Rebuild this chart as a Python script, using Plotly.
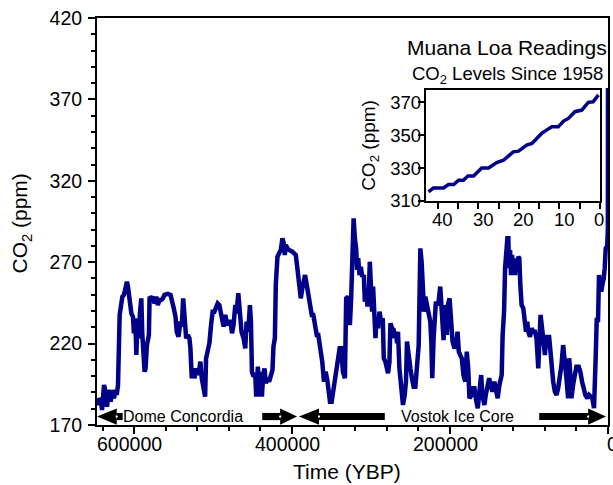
import plotly.graph_objects as go

# ---------------- data ----------------
# Ice-core CO2 record: age in thousands of years before present, CO2 in ppm
age_kyr = [
    647.0, 644.8, 642.3, 640.6, 638.1, 636.3, 634.3, 632.2, 629.6, 628.0,
    625.5, 623.7, 622.1, 620.4, 618.3, 616.1, 614.9, 612.9, 610.7, 609.1,
    607.8, 606.6, 605.3, 603.5, 601.5, 600.2, 598.5, 597.2, 595.9, 593.9,
    592.7, 590.9, 589.6, 588.0, 586.7, 585.5, 583.8, 581.3, 580.4, 578.3,
    576.3, 574.1, 572.0, 570.0, 567.8, 565.7, 563.6, 561.5, 557.3, 553.9,
    551.8, 549.8, 547.6, 546.0, 543.8, 541.3, 539.7, 537.9, 536.3, 534.1,
    532.1, 530.0, 528.7, 527.0, 525.3, 523.6, 521.5, 519.5, 517.3, 516.1,
    514.4, 512.3, 510.1, 508.9, 506.9, 504.7, 502.6, 500.6, 498.4, 496.3,
    494.2, 492.1, 490.0, 486.7, 484.5, 482.9, 480.4, 478.2, 476.1, 474.1,
    471.9, 470.3, 468.1, 466.0, 464.0, 461.4, 459.3, 457.6, 455.5, 453.4,
    452.1, 450.8, 448.8, 446.7, 445.4, 443.3, 441.3, 439.5, 438.2, 436.6,
    434.9, 433.2, 431.2, 429.0, 426.9, 424.8, 423.6, 421.8, 420.6, 418.5,
    416.4, 414.3, 412.2, 410.5, 409.2, 407.9, 405.9, 403.8, 399.6, 395.3,
    393.3, 391.2, 389.0, 387.0, 383.6, 380.7, 377.7, 375.1, 373.1, 371.0,
    368.8, 366.8, 364.7, 361.8, 359.6, 357.5, 355.4, 352.0, 349.9, 347.0,
    344.1, 341.6, 339.8, 337.8, 335.6, 333.1, 331.5, 329.0, 326.8, 325.2,
    323.9, 322.1, 320.5, 318.9, 317.6, 316.3, 314.6, 312.9, 311.3, 309.1,
    307.9, 306.2, 304.5, 302.8, 301.6, 300.3, 298.7, 297.4, 295.6, 294.4,
    293.1, 291.1, 289.3, 287.3, 285.2, 283.9, 281.8, 279.7, 278.5, 276.7,
    275.5, 273.4, 271.3, 270.0, 268.4, 267.1, 265.9, 264.1, 262.8, 260.8,
    259.6, 257.4, 255.8, 254.5, 252.4, 250.2, 248.2, 246.1, 243.9, 241.9,
    239.7, 237.6, 236.0, 234.3, 233.1, 231.3, 229.3, 227.1, 225.0, 223.7,
    222.5, 220.8, 219.6, 217.9, 216.1, 214.5, 212.4, 211.1, 209.8, 208.2,
    206.9, 205.3, 204.0, 202.8, 200.6, 199.0, 196.8, 194.3, 192.2, 190.5,
    188.9, 187.1, 185.1, 183.0, 180.8, 178.8, 177.0, 175.4, 173.2, 171.2,
    169.1, 167.4, 164.9, 162.8, 160.6, 159.0, 156.5, 154.8, 152.7, 150.5,
    148.5, 146.4, 143.8, 141.7, 139.7, 137.5, 135.9, 134.6, 133.4, 131.6,
    130.3, 129.1, 127.4, 126.2, 125.3, 124.0, 122.8, 121.5, 120.2, 119.0,
    117.7, 116.5, 114.8, 113.6, 112.3, 111.0, 109.4, 107.3, 105.1, 103.8,
    102.2, 100.9, 98.8, 96.8, 94.6, 92.5, 90.5, 88.3, 85.4, 84.2,
    82.0, 79.9, 78.2, 76.6, 74.8, 73.2, 71.5, 69.4, 67.3, 65.2,
    63.1, 60.9, 58.9, 56.8, 54.6, 52.6, 50.5, 49.2, 47.6, 46.3,
    44.2, 42.0, 40.0, 37.0, 35.0, 32.8, 30.7, 28.6, 26.1, 24.0,
    21.8, 19.8, 17.7, 16.8, 15.5, 14.3, 12.6, 11.4, 10.1, 8.5,
    7.2, 5.4, 4.2, 2.9, 1.0, 0.2, 0.05, 0.0,
]
co2_ppm = [
    186.4, 182.3, 186.6, 179.2, 194.6, 190.5, 181.2, 191.5, 184.3, 191.5,
    186.4, 191.5, 188.4, 194.6, 237.6, 243.7, 248.8, 249.9, 256.0, 258.0,
    255.0, 248.8, 242.7, 238.6, 236.5, 226.3, 235.5, 213.0, 231.4, 223.3,
    238.6, 247.8, 225.3, 213.0, 202.7, 204.8, 219.1, 225.3, 248.8, 247.8,
    248.8, 244.7, 248.8, 243.7, 246.8, 246.8, 247.8, 249.9, 250.5, 249.9,
    246.8, 241.7, 236.5, 227.3, 224.2, 233.5, 230.4, 247.8, 237.6, 223.3,
    225.3, 223.3, 217.1, 198.7, 204.8, 198.7, 204.8, 200.7, 204.8, 208.9,
    198.7, 192.5, 187.4, 210.9, 217.1, 220.2, 231.4, 239.6, 239.6, 242.7,
    244.7, 243.7, 238.6, 230.4, 237.6, 233.5, 231.4, 234.5, 226.3, 231.4,
    243.7, 238.6, 250.9, 234.5, 227.3, 223.3, 217.1, 233.5, 227.3, 243.7,
    233.5, 202.7, 199.7, 201.8, 187.4, 205.8, 187.4, 202.7, 187.4, 200.7,
    204.8, 195.6, 198.7, 196.6, 199.7, 203.8, 218.1, 223.3, 256.0, 273.4,
    275.5, 277.5, 284.7, 281.6, 274.4, 280.6, 278.5, 277.5, 276.5, 274.4,
    266.3, 256.0, 247.8, 254.0, 262.1, 254.0, 243.7, 237.6, 237.6, 231.4,
    225.3, 225.3, 219.1, 208.9, 196.6, 202.7, 197.6, 184.3, 184.3, 194.6,
    202.7, 213.0, 217.1, 217.1, 202.7, 198.7, 247.8, 248.8, 231.4, 247.8,
    276.5, 296.9, 284.7, 278.5, 265.2, 272.4, 262.1, 267.2, 261.1, 262.1,
    245.7, 254.0, 242.7, 251.9, 270.3, 245.7, 239.6, 255.0, 237.6, 223.3,
    235.5, 229.4, 239.6, 233.5, 235.5, 211.0, 208.9, 204.8, 201.8, 208.9,
    232.5, 229.4, 228.4, 223.3, 227.3, 220.2, 227.3, 204.8, 198.7, 190.5,
    182.3, 188.4, 196.6, 221.2, 211.0, 204.8, 198.7, 193.5, 193.5, 211.0,
    219.1, 278.5, 270.3, 254.0, 239.6, 248.8, 243.7, 237.6, 233.5, 221.2,
    198.7, 223.3, 237.6, 245.7, 243.7, 245.7, 255.0, 245.7, 227.3, 222.2,
    235.5, 243.7, 225.3, 243.7, 247.8, 235.5, 221.2, 217.1, 219.1, 227.3,
    215.0, 213.0, 211.0, 200.7, 196.6, 215.0, 204.8, 186.4, 188.0, 192.5,
    192.5, 186.4, 180.3, 190.5, 200.7, 188.4, 182.3, 188.4, 192.5, 198.7,
    194.6, 190.5, 196.6, 190.5, 186.4, 194.6, 199.7, 200.7, 225.3, 239.6,
    266.3, 276.5, 284.7, 284.7, 266.3, 277.5, 262.1, 274.4, 266.3, 272.4,
    262.1, 270.3, 264.2, 273.4, 272.4, 256.0, 243.7, 241.7, 233.5, 227.3,
    233.5, 227.3, 224.2, 229.4, 227.3, 227.3, 223.3, 204.8, 237.6, 229.4,
    223.3, 213.0, 225.3, 217.1, 225.3, 217.1, 206.9, 196.6, 190.5, 188.4,
    192.5, 198.7, 206.9, 219.1, 211.0, 198.7, 186.4, 211.0, 200.7, 186.4,
    194.6, 202.7, 205.8, 205.8, 202.7, 196.6, 192.5, 188.4, 186.4, 188.4,
    187.4, 186.4, 180.3, 188.4, 213.0, 234.5, 234.5, 262.1, 258.0, 251.9,
    256.0, 260.1, 266.3, 278.5, 280.0, 290.0, 320.0, 377.0,
]

# Mauna Loa inset: years before the end of the record, CO2 in ppm
ml_years_ago = [42.3, 41.1, 38.6, 37.4, 36.1, 34.9, 33.7, 32.6, 31.2, 29.2,
                27.5, 25.5, 23.8, 21.4, 20.1, 18.1, 16.8, 15.6, 14.4, 13.2,
                11.9, 10.3, 9.0, 7.8, 6.2, 4.5, 2.9, 1.7, 0.4]
ml_ppm = [315.5, 317.9, 317.9, 320.0, 320.0, 322.6, 322.6, 325.2, 325.2, 330.1,
          330.1, 333.4, 334.8, 339.9, 340.3, 344.0, 345.0, 348.0, 351.1, 353.1,
          355.1, 355.1, 358.6, 360.2, 364.3, 365.3, 370.0, 370.3, 374.5]

main_x_ticks = [0, 200000, 400000, 600000]
main_x_ticklabels = ["0", "200000", "400000", "600000"]
main_y_ticks = [170, 220, 270, 320, 370, 420]
inset_x_ticks = [0, 10, 20, 30, 40]
inset_x_ticklabels = ["0", "10", "20", "30", "40"]
inset_y_ticks = [310, 330, 350, 370]

# ---------------- styling ----------------
FONT = "Liberation Sans, Arial, sans-serif"
LINE = "#000088"
BLACK = "#000000"

fig = go.Figure()
fig.add_trace(go.Scatter(
    x=[a * 1000 for a in age_kyr], y=co2_ppm, mode="lines",
    line=dict(color=LINE, width=4.5), xaxis="x", yaxis="y", hoverinfo="skip"))
fig.add_trace(go.Scatter(
    x=ml_years_ago, y=ml_ppm, mode="lines",
    line=dict(color=LINE, width=3.5), xaxis="x2", yaxis="y2", hoverinfo="skip"))

axis_common = dict(showline=True, linecolor=BLACK, linewidth=2, mirror=True,
                   ticks="outside", tickcolor=BLACK, tickwidth=2,
                   showgrid=False, zeroline=False)

fig.update_layout(
    width=613, height=485,
    margin=dict(l=97, r=3, t=18, b=60),
    paper_bgcolor="white", plot_bgcolor="white",
    showlegend=False,
    font=dict(family=FONT, color=BLACK),
    xaxis=dict(**axis_common, range=[647000, 0], domain=[0, 1],
               tickvals=main_x_ticks, showticklabels=False, ticklen=7,
               minor=dict(dtick=40000, tick0=0, ticks="outside", ticklen=4,
                          tickwidth=1.5, tickcolor=BLACK, showgrid=False)),
    yaxis=dict(**axis_common, range=[170, 420], domain=[0, 1],
               tickvals=main_y_ticks, ticklen=7, tickfont=dict(size=19.5),
               ticklabelstandoff=2,
               minor=dict(dtick=10, tick0=170, ticks="outside", ticklen=4,
                          tickwidth=1.5, tickcolor=BLACK, showgrid=False)),
    xaxis2=dict(**axis_common, anchor="y2", domain=[0.6433, 0.9844],
                range=[43, 0], tickvals=inset_x_ticks, showticklabels=False,
                ticklen=6,
                minor=dict(dtick=5, tick0=0, ticks="outside", ticklen=6,
                           tickwidth=2, tickcolor=BLACK, showgrid=False)),
    yaxis2=dict(**axis_common, anchor="x2", domain=[0.5504, 0.8231],
                range=[310, 377.5], tickvals=inset_y_ticks, ticklen=6,
                tickfont=dict(size=18.5), ticklabelstandoff=-7),
)

# ---------------- text ----------------
ann = [
    dict(text="CO<sub>2</sub> (ppm)", xref="paper", yref="paper", x=-0.148, y=0.496,
         xanchor="center", yanchor="middle",
         textangle=-90, showarrow=False, font=dict(size=21)),
    dict(text="Time (YBP)", xref="paper", yref="paper", x=0.49, y=-0.115,
         xanchor="center", yanchor="middle", showarrow=False, font=dict(size=21)),
    dict(text="Muana Loa Readings", xref="paper", yref="paper", x=1.002, y=0.927,
         xanchor="right", yanchor="middle", showarrow=False, font=dict(size=21)),
    dict(text="CO<sub>2</sub> Levels Since 1958", xref="paper", yref="paper",
         x=0.994, y=0.860, xanchor="right", yanchor="middle", showarrow=False,
         font=dict(size=18.5)),
    dict(text="CO<sub>2</sub> (ppm)", xref="paper", yref="paper", x=0.534, y=0.688,
         xanchor="center", yanchor="middle",
         textangle=-90, showarrow=False, font=dict(size=19)),
    dict(text="Dome Concordia", xref="x", yref="y", x=537500, y=175.2,
         xanchor="center", yanchor="middle", showarrow=False, font=dict(size=16)),
    dict(text="Vostok Ice Core", xref="x", yref="y", x=190500, y=175.2,
         xanchor="center", yanchor="middle", showarrow=False, font=dict(size=16)),
]
# main x tick labels (set slightly left of their ticks, as in the original)
for v, lab in zip(main_x_ticks, main_x_ticklabels):
    ann.append(dict(text=lab, xref="x", yref="paper", x=v, y=-0.047,
                    xshift=(4 if v == 0 else -5), xanchor="center", yanchor="middle",
                    showarrow=False, font=dict(size=19.5)))
# inset x tick labels (set slightly right of their ticks, as in the original)
for v, lab in zip(inset_x_ticks, inset_x_ticklabels):
    ann.append(dict(text=lab, xref="x2", yref="paper", x=v, y=0.5044,
                    xshift=(-1 if v == 0 else 5), xanchor="center", yanchor="middle",
                    showarrow=False, font=dict(size=18.5)))
fig.update_layout(annotations=ann)

# ---------------- range arrows (drawn in axis units) ----------------
yc, yh_top, yh_bot, ys_top, ys_bot = 175.2, 180.2, 170.2, 177.4, 173.0
shapes = []


def arrow(tip, base, shaft_end):
    shapes.append(dict(type="path", xref="x", yref="y", layer="above",
                       path=f"M {tip},{yc} L {base},{yh_top} L {base},{yh_bot} Z",
                       fillcolor=BLACK, line=dict(width=0)))
    shapes.append(dict(type="rect", xref="x", yref="y", layer="above",
                       x0=min(base, shaft_end), x1=max(base, shaft_end),
                       y0=ys_bot, y1=ys_top, fillcolor=BLACK, line=dict(width=0)))
    # small white notch at the head/shaft junction
    shapes.append(dict(type="rect", xref="x", yref="y", layer="above",
                       x0=base - 1300, x1=base + 1300, y0=yc - 0.6, y1=yc + 0.6,
                       fillcolor="white", line=dict(width=0)))


arrow(647000, 622000, 614500)   # Dome Concordia, left
arrow(393700, 415100, 437800)   # Dome Concordia, right
arrow(391200, 365900, 282600)   # Vostok, left
arrow(2500, 25200, 87100)       # Vostok, right
fig.update_layout(shapes=shapes)

fig.write_html("out.html")
